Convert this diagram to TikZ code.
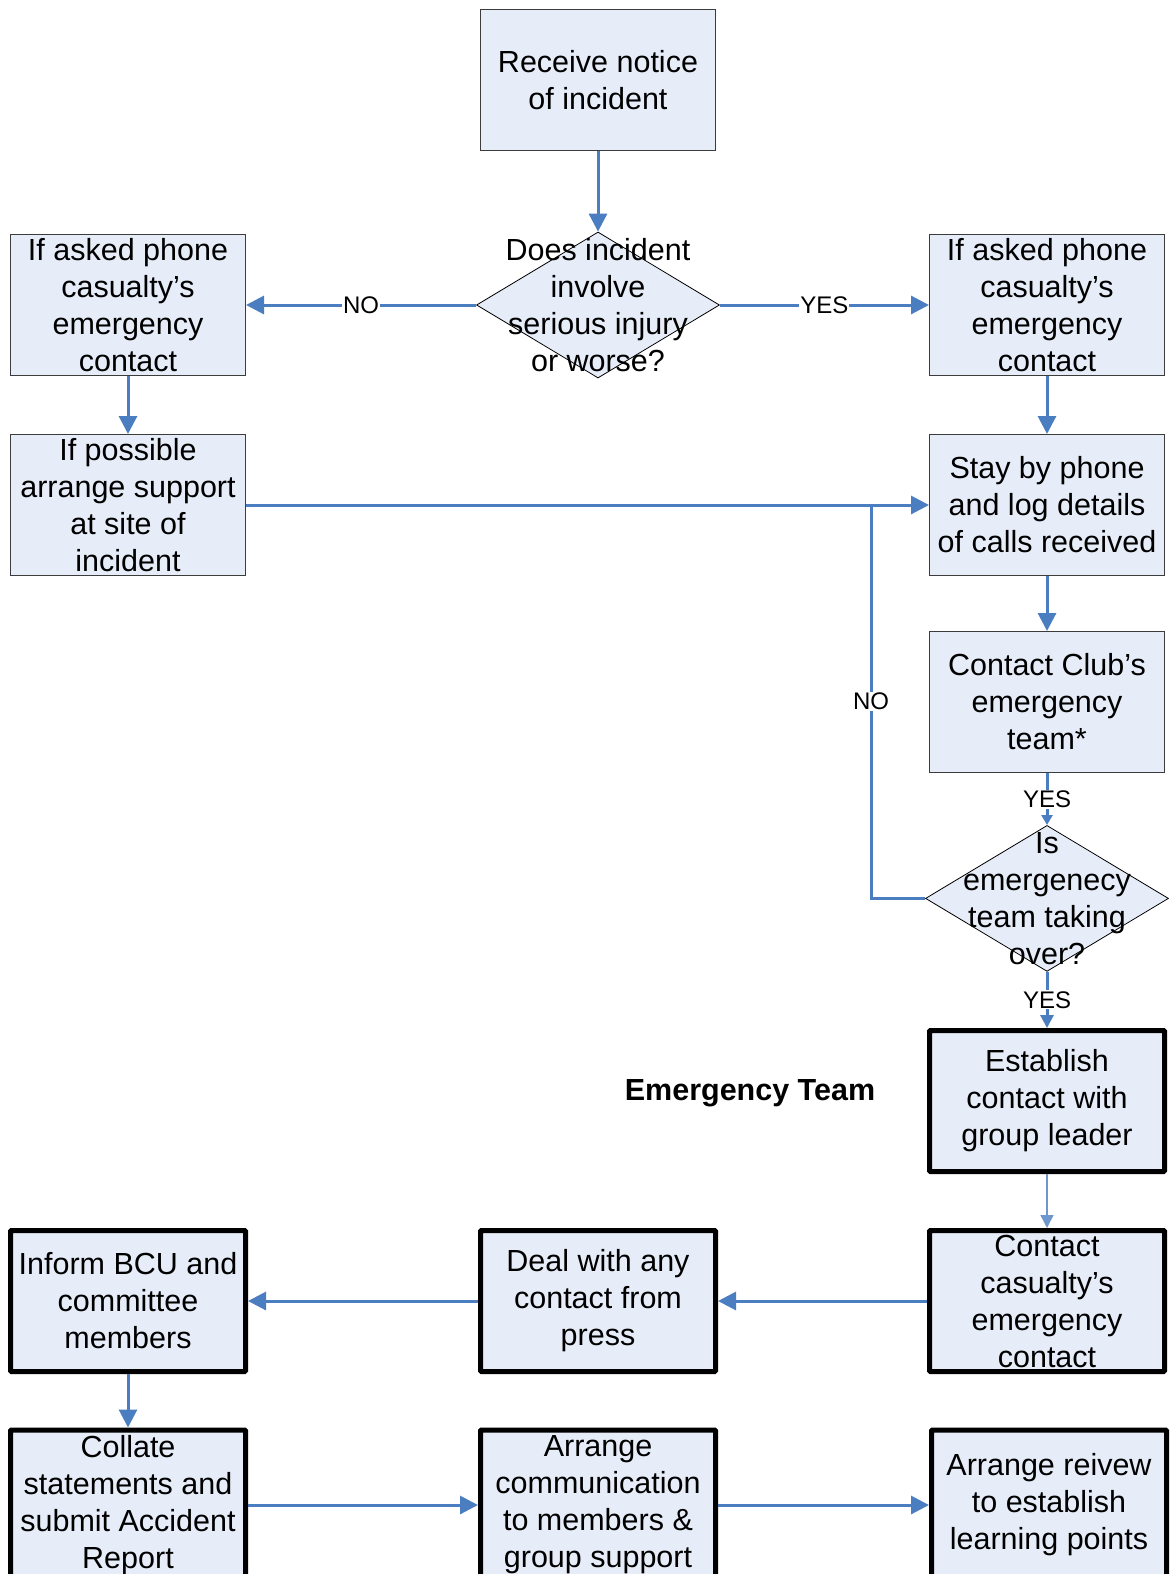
\documentclass[tikz,border=0pt]{standalone}
\usepackage{fontspec}
\setmainfont{Liberation Sans}
\usepackage{tikz}
\usetikzlibrary{positioning,arrows.meta,shapes.geometric}
\definecolor{flowblue}{RGB}{74,126,193}
\definecolor{boxbg}{RGB}{231,237,248}
\definecolor{boxdraw}{RGB}{60,60,60}

\begin{document}
\begin{tikzpicture}[x=1pt,y=-1pt,every node/.style={font=\fontsize{30.5pt}{37pt}\selectfont},box/.style={draw=boxdraw,fill=boxbg,line width=1pt,minimum width=235pt,minimum height=141pt,inner sep=0pt,align=center},heavybox/.style={box,draw=black,line width=5pt,rounded corners=1pt},decision/.style={diamond,draw=black,fill=boxbg,line width=.8pt,minimum width=243pt,minimum height=146pt,inner sep=0pt},arr/.style={-{Triangle[length=18pt,width=18pt]},draw=flowblue,line width=3pt},lbl/.style={font=\fontsize{24pt}{28pt}\selectfont,fill=white,inner sep=1pt}]
  \useasboundingbox (0,0) rectangle (1171,1574);
  % caller side
  \node[box] (notice) at (598,80) {Receive notice\\of incident};
  \node[decision] (q1) at (598,305) {};
  \node[align=center] (q1txt) at (q1) {Does incident\\involve\\serious injury\\or worse?};
  \node[box] (lcall) at (128,305) {If asked phone\\casualty's\\emergency\\contact};
  \node[box] (rcall) at (1047,305) {If asked phone\\casualty's\\emergency\\contact};
  \node[box,below=58pt of lcall] (support) {If possible\\arrange support\\at site of\\incident};
  \node[box,below=58pt of rcall] (phone) {Stay by phone\\and log details\\of calls received};
  \node[box,below=55pt of phone] (club) {Contact Club's\\emergency\\team*};
  \node[decision,below=52pt of club] (q2) {};
  \node[align=center] (q2txt) at (q2) {Is\\emergenecy\\team taking\\over?};
  \coordinate (merge) at (871,505);
  % emergency team
  \node[heavybox] (leader) at (1047,1101) {Establish\\contact with\\group leader};
  \node[font=\fontsize{30.5pt}{37pt}\selectfont\bfseries] (team) at (750,1093) {Emergency Team};
  \node[heavybox] (family) at (1047,1301) {Contact\\casualty's\\emergency\\contact};
  \node[heavybox] (press) at (598,1301) {Deal with any\\contact from\\press};
  \node[heavybox] (bcu) at (128,1301) {Inform BCU and\\committee\\members};
  \node[heavybox,minimum height=150pt] (report) at (128,1505) {Collate\\statements and\\submit Accident\\Report};
  \node[heavybox,minimum height=150pt] (comms) at (598,1505) {Arrange\\communication\\to members \&\\group support};
  \node[heavybox,minimum height=150pt] (review) at (1049,1505) {Arrange reivew\\to establish\\learning points};
  \draw[arr] (notice) -- (q1);
  \draw[arr] (q1) -- node[lbl] {NO} (lcall);
  \draw[arr] (q1) -- node[lbl] {YES} (rcall);
  \draw[arr] (lcall) -- (support);
  \draw[arr] (rcall) -- (phone);
  \draw[arr] (support) -- (phone);
  \draw[arr] (phone) -- (club);
  \draw[arr,-{Triangle[length=10pt,width=11pt]}] (club) -- node[lbl] {YES} (q2);
  \draw[draw=flowblue,line width=3pt] (q2) -| node[lbl,pos=.75] {NO} (merge);
  \draw[arr,-{Triangle[length=13pt,width=13pt]}] (q2) -- node[lbl] {YES} (leader);
  \draw[arr,line width=1.5pt,draw=flowblue!80,-{Triangle[length=13pt,width=13pt]}] (leader) -- (family);
  \draw[arr] (family) -- (press);
  \draw[arr] (press) -- (bcu);
  \draw[arr] (bcu) -- (report);
  \draw[arr] (report) -- (comms);
  \draw[arr] (comms) -- (review);
\end{tikzpicture}
\end{document}
